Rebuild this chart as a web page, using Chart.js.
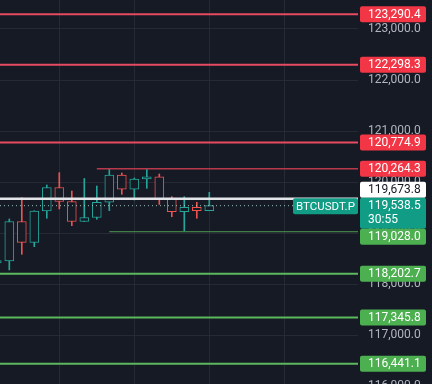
<!DOCTYPE html>
<html><head><meta charset="utf-8">
<script src="https://cdn.jsdelivr.net/npm/chart.js@4/dist/chart.umd.min.js"></script>
<style>html,body{margin:0;padding:0;background:#161a25;overflow:hidden}canvas{display:block}</style>
</head><body><canvas id="c" width="432" height="384"></canvas>
<script>
// ---- data ----
const opens  = [118416,118455,119229,118817,119434,119895,119621,119229,119307,119605,120140,119860,120061,120106,119664,119421,119507,119440];
const highs  = [118470,119278,119695,119440,119944,120185,119826,120071,119924,120257,120179,120081,120257,120159,119715,119715,119605,119801];
const lows   = [118400,118279,118586,118735,119292,119474,119147,119225,119272,119440,119762,119650,119879,119562,119323,119043,119292,119440];
const closes = [118461,119229,118821,119434,119895,119621,119229,119307,119605,120140,119860,120061,120106,119664,119421,119507,119440,119538.5];
const resistanceLevels = [123290.4, 122298.3, 120774.9, 120264.3];
const resistanceStart  = [null, null, null, 8];   // candle index where a short level begins
const supportLevels    = [119028.0, 118202.7, 117345.8, 116441.1];
const supportStart     = [9, null, null, null];
const markPrice = 119673.8;
const lastPrice = 119538.5;
const countdown = '30:55';
const symbol = 'BTCUSDT.P';
const yTicks = [116000, 117000, 118000, 119000, 120000, 121000, 122000, 123000];
const xGridAt = [6, 12, 18, 24];
const yMin = 116045, yMax = 123568;
const xMin = 1.256, xMax = 29.896;

// ---- styles ----
const UP = '#26a69a', DOWN = '#ef5350', BG = '#161a25';
const candleX = i => i + 1;
const isUp = i => closes[i] >= opens[i];
const fmt = v => v.toLocaleString('en-US', {minimumFractionDigits: 1, maximumFractionDigits: 1});

const wickData = highs.map((h, i) => ({x: candleX(i), y: [lows[i], h]}));
const bodyData = opens.map((o, i) => ({x: candleX(i), y: [Math.min(o, closes[i]), Math.max(o, closes[i])]}));
const colors = opens.map((o, i) => isUp(i) ? UP : DOWN);

function levelLine(v, start, color, width, dash) {
  return {
    type: 'line', order: 0,
    data: [{x: start == null ? xMin : candleX(start), y: v}, {x: xMax, y: v}],
    borderColor: color, borderWidth: width, borderDash: dash || [],
    pointRadius: 0, pointHoverRadius: 0, fill: false, tension: 0
  };
}
const lineSets = [];
resistanceLevels.forEach((v, k) => lineSets.push(levelLine(v, resistanceStart[k],
  resistanceStart[k] == null ? '#e84a5f' : '#b8384c', resistanceStart[k] == null ? 2 : 1.5)));
supportLevels.forEach((v, k) => lineSets.push(levelLine(v, supportStart[k],
  supportStart[k] == null ? '#5cb85c' : '#4c9f50', supportStart[k] == null ? 2 : 1)));
lineSets.push(levelLine(markPrice, null, '#e4e5e9', 2.5));
lineSets.push(levelLine(lastPrice, null, 'rgba(170,210,200,0.9)', 1, [1, 3]));

const priceLabels = {
  id: 'priceLabels',
  afterDraw(chart) {
    const ctx = chart.ctx, ys = chart.scales.y, a = chart.chartArea;
    const bx = a.right + 2, bw = 66, bh = 16;
    const items = [];
    resistanceLevels.forEach(v => items.push({v, bg: '#f23645', fg: '#ffffff'}));
    supportLevels.forEach(v => items.push({v, bg: '#4caf50', fg: '#ffffff'}));
    items.push({v: markPrice, bg: '#ffffff', fg: '#131722'});
    items.push({v: lastPrice, bg: '#119c85', fg: '#ffffff', sub: countdown, cur: true});
    items.forEach(it => { it.y = ys.getPixelForValue(it.v); it.h = it.sub ? 31 : bh; it.top = it.y - 8; });
    items.sort((p, q) => p.y - q.y);
    const ci = items.findIndex(it => it.cur);
    for (let j = ci - 1; j >= 0; j--) {
      const lim = items[j + 1].top;
      if (items[j].top + items[j].h > lim) items[j].top = lim - items[j].h;
    }
    for (let j = ci + 1; j < items.length; j++) {
      const lim = items[j - 1].top + items[j - 1].h;
      if (items[j].top < lim) items[j].top = lim;
    }
    ctx.save();
    ctx.font = '12px Roboto';
    ctx.textBaseline = 'middle';
    ctx.textAlign = 'left';
    items.forEach(it => {
      ctx.fillStyle = it.bg;
      ctx.beginPath();
      ctx.roundRect(bx, it.top, bw, it.h, 2);
      ctx.fill();
      ctx.fillStyle = it.fg;
      ctx.fillText(fmt(it.v), bx + 8, it.top + 8.5);
      if (it.sub) ctx.fillText(it.sub, bx + 8, it.top + 22.5);
    });
    const sy = ys.getPixelForValue(lastPrice);
    ctx.fillStyle = '#119c85';
    ctx.beginPath();
    ctx.roundRect(a.right - 65, sy - 7.5, 65, 16, 2);
    ctx.fill();
    ctx.font = '11.5px Roboto';
    ctx.textAlign = 'center';
    ctx.fillStyle = '#ffffff';
    ctx.fillText(symbol, a.right - 32.5, sy + 1);
    ctx.restore();
  }
};

new Chart(document.getElementById('c'), {
  type: 'bar',
  data: {
    datasets: [
      ...lineSets,
      {type: 'bar', order: 1, data: bodyData, grouped: false, barThickness: 9,
       backgroundColor: BG, borderColor: colors, borderWidth: 1, borderSkipped: false},
      {type: 'bar', order: 2, data: wickData, grouped: false, barThickness: 1,
       backgroundColor: colors, borderWidth: 0}
    ]
  },
  options: {
    responsive: false, animation: false, devicePixelRatio: 1,
    layout: {padding: 0, autoPadding: false},
    plugins: {legend: {display: false}, tooltip: {enabled: false}},
    scales: {
      x: {
        type: 'linear', min: xMin, max: xMax, offset: false,
        ticks: {display: false},
        afterBuildTicks: s => { s.ticks = xGridAt.map(v => ({value: v})); },
        grid: {color: '#262a35', drawTicks: false, offset: false},
        border: {display: false},
        afterFit: s => { s.height = 0; s.paddingLeft = 0; s.paddingRight = 0; s.paddingTop = 0; s.paddingBottom = 0; }
      },
      y: {
        position: 'right', min: yMin, max: yMax,
        afterBuildTicks: s => { s.ticks = yTicks.map(v => ({value: v})); },
        ticks: {padding: 10, color: '#b2b5be',
                font: {family: 'Roboto', size: 12}, callback: v => fmt(v)},
        grid: {color: '#262a35', drawTicks: false, offset: false},
        border: {display: false},
        afterFit: s => { s.width = 74; s.paddingTop = 0; s.paddingBottom = 0; s.paddingLeft = 0; s.paddingRight = 0; }
      }
    }
  },
  plugins: [priceLabels]
});
</script>
</body></html>
